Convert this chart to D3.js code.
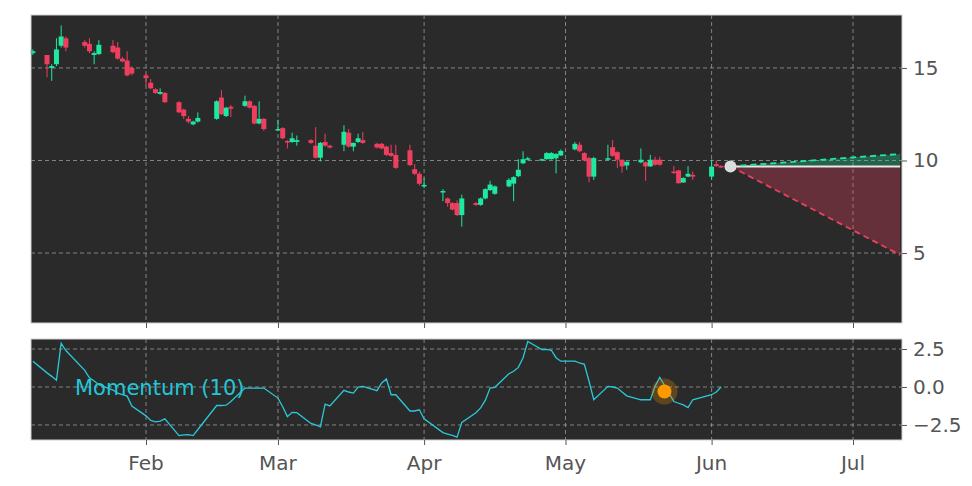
<!DOCTYPE html>
<html>
<head>
<meta charset="utf-8">
<script src="https://cdn.jsdelivr.net/npm/d3@7"></script>
<style>
  body { margin: 0; background: #fff; }
  text { font-family: "DejaVu Sans", sans-serif; }
</style>
</head>
<body>
<svg id="chart" width="972" height="486"></svg>
<script>
// Trading days, Jan 8 - Jun 3 2021
var dates = [
  '2021-01-08','2021-01-11','2021-01-12','2021-01-13','2021-01-14','2021-01-15','2021-01-19','2021-01-20','2021-01-21','2021-01-22',
  '2021-01-25','2021-01-26','2021-01-27','2021-01-28','2021-01-29',
  '2021-02-01','2021-02-02','2021-02-03','2021-02-04','2021-02-05','2021-02-08','2021-02-09','2021-02-10','2021-02-11','2021-02-12',
  '2021-02-16','2021-02-17','2021-02-18','2021-02-19','2021-02-22','2021-02-23','2021-02-24','2021-02-25','2021-02-26',
  '2021-03-01','2021-03-02','2021-03-03','2021-03-04','2021-03-05','2021-03-08','2021-03-09','2021-03-10','2021-03-11','2021-03-12',
  '2021-03-15','2021-03-16','2021-03-17','2021-03-18','2021-03-19','2021-03-22','2021-03-23','2021-03-24','2021-03-25','2021-03-26',
  '2021-03-29','2021-03-30','2021-03-31',
  '2021-04-01','2021-04-05','2021-04-06','2021-04-07','2021-04-08','2021-04-09','2021-04-12','2021-04-13','2021-04-14','2021-04-15',
  '2021-04-16','2021-04-19','2021-04-20','2021-04-21','2021-04-22','2021-04-23','2021-04-26','2021-04-27','2021-04-28','2021-04-29','2021-04-30',
  '2021-05-03','2021-05-04','2021-05-05','2021-05-06','2021-05-07','2021-05-10','2021-05-11','2021-05-12','2021-05-13','2021-05-14',
  '2021-05-17','2021-05-18','2021-05-19','2021-05-20','2021-05-21','2021-05-24','2021-05-25','2021-05-26','2021-05-27','2021-05-28',
  '2021-06-01','2021-06-02','2021-06-03'
];
var opens = [
  15.8,15.7,15.0,15.2,16.2,16.6,16.4,16.3,15.7,15.75,16.2,16.1,15.5,15.4,15.0,
  14.6,14.2,13.85,13.6,13.65,13.15,12.75,12.25,11.95,12.1,12.25,13.4,12.4,12.9,12.95,13.2,12.95,12.0,12.25,
  11.65,11.75,11.05,11.0,11.0,11.1,10.8,10.15,11.0,10.8,10.85,11.5,10.75,11.0,11.1,10.9,10.9,10.75,10.4,10.3,10.55,9.53,9.28,
  8.6,8.3,7.95,7.7,7.7,7.05,7.7,7.6,7.95,8.4,8.2,8.6,8.75,9.15,9.85,10.04,10.04,10.07,10.07,10.12,10.27,
  10.6,10.85,10.4,10.13,9.13,10.05,10.72,10.45,10.04,9.73,9.9,9.9,9.68,10.04,10.04,9.4,9.46,8.81,9.13,9.22,
  9.13,9.8,9.7
];
var closes = [
  15.9,15.2,15.1,16.0,16.7,16.1,16.2,15.9,15.8,16.25,15.85,15.5,15.35,14.6,14.7,
  14.45,13.9,13.65,13.7,13.15,12.6,12.4,12.1,12.1,12.3,13.2,12.5,12.85,12.8,13.2,12.85,12.0,12.25,11.7,
  11.7,11.2,11.0,11.2,11.1,10.95,10.15,10.95,10.8,10.7,11.55,10.75,10.95,11.2,10.95,10.7,10.65,10.3,10.25,9.6,9.75,9.28,8.74,
  8.68,8.35,7.7,7.35,7.05,7.95,7.6,7.95,8.45,8.7,8.6,8.95,9.1,9.5,10.07,10.12,10.07,10.4,10.4,10.35,10.52,
  10.9,10.5,10.0,9.13,10.13,10.12,10.25,10.04,9.68,9.93,10.04,9.68,10.04,9.77,9.77,9.32,8.77,9.05,9.28,9.13,
  9.67,9.7,9.68
];
var highs = [
  16.0,15.7,15.2,16.6,17.3,16.7,16.5,16.6,15.9,16.5,16.5,16.4,15.6,15.9,15.1,
  14.7,14.4,13.9,13.9,13.7,13.2,12.8,12.4,12.15,12.6,13.25,13.8,12.9,13.0,13.5,13.25,13.0,13.2,12.3,
  12.2,11.8,11.1,11.5,11.35,11.15,11.8,11.0,11.45,10.85,11.9,11.7,10.97,11.45,11.55,10.95,10.95,10.8,10.85,10.85,10.85,9.8,9.4,
  9.05,8.45,8.0,7.75,7.85,8.15,7.75,8.0,8.5,8.9,8.65,9.05,9.15,10.07,10.5,10.2,10.1,10.45,10.45,10.4,10.6,
  11.0,11.0,10.45,10.2,10.2,10.85,11.1,10.5,10.05,9.95,10.65,9.95,10.3,10.2,10.2,9.7,9.5,9.1,9.7,9.4,
  10.05,10.0,9.75
];
var lows = [
  15.7,14.5,14.3,15.1,16.1,15.9,16.1,15.8,15.2,15.7,15.8,15.45,15.3,14.55,14.6,
  14.05,13.85,13.6,13.55,13.1,12.55,12.25,12.0,11.9,12.05,12.2,12.45,12.35,12.35,12.9,12.8,11.95,11.95,11.6,
  11.6,11.15,10.65,10.95,10.8,10.9,10.1,9.95,10.75,10.65,10.5,10.7,10.5,10.95,10.9,10.65,10.6,10.25,10.2,9.55,9.7,9.2,8.65,
  8.5,7.8,7.5,7.3,7.0,6.43,7.55,7.55,7.9,8.35,8.15,8.55,7.8,9.1,9.8,10.0,10.0,10.05,10.05,9.3,10.25,
  10.55,10.45,9.95,8.82,8.95,10.0,10.2,9.6,9.34,9.5,9.85,8.9,9.65,9.72,9.72,9.28,8.75,8.8,9.1,8.95,
  8.95,9.65,9.6
];
var momentum = [
  1.7,0.93,0.7,0.45,2.87,2.4,1.1,0.6,0.4,0.15,-0.2,-0.4,-0.5,-0.6,-1.25,
  -1.9,-2.2,-2.3,-2.25,-2.1,-3.2,-3.15,-3.13,-3.2,-2.8,-1.22,-1.22,-1.2,-0.95,-0.07,-0.07,-0.07,-0.07,-0.07,
  -0.73,-1.3,-1.95,-1.67,-1.69,-2.4,-2.5,-2.62,-1.13,-1.25,-0.22,-0.33,-0.4,0.0,0.04,-0.24,0.27,0.53,-0.51,-0.51,-1.58,-1.58,-1.5,
  -2.1,-3.0,-3.1,-3.18,-3.3,-2.33,-1.7,-1.38,-0.87,-0.07,-0.02,0.87,1.04,1.29,1.93,3.0,2.47,2.47,2.42,1.93,1.7,
  1.7,1.58,1.49,0.38,-0.84,0.04,0.0,-0.07,-0.33,-0.58,-0.84,-0.84,-0.84,0.04,0.64,-0.96,-1.07,-1.18,-1.36,-0.84,
  -0.51,-0.33,0.0
];
// Projection from last close
var projStart = '2021-06-05';
var projEnd = '2021-07-11';
var projBase = 9.68;
var projUp = 10.35;
var projDown = 4.9;
var signalDate = '2021-05-22';
var signalValue = -0.3;

var priceTicks = [5, 10, 15];
var momTicks = [-2.5, 0.0, 2.5];

var parse = d3.timeParse('%Y-%m-%d');
var candles = dates.map((d, i) => ({
  date: parse(d), open: opens[i], close: closes[i], high: highs[i], low: lows[i], mom: momentum[i]
}));

var svg = d3.select('#chart');
var left = 31, right = 902;
var main = {top: 15, bottom: 323};
var lower = {top: 339, bottom: 440};
var bg = '#2a2a2a';
var gridColor = '#9a9a9a';
var green = '#1de9a0', red = '#ef3f5f';

var x = d3.scaleTime()
  .domain([parse('2021-01-07'), parse('2021-07-11')])
  .range([left, right]);
// keep the month positions right
x.domain([x.invert(0), x.invert(0)]);
x = d3.scaleTime()
  .domain([parse('2021-02-01'), parse('2021-07-01')])
  .range([146, 853]);

var y = d3.scaleLinear().domain([1.22, 17.86]).range([main.bottom, main.top]);
var ym = d3.scaleLinear().domain([-3.49, 3.16]).range([lower.bottom, lower.top]);

var monthTicks = d3.timeMonth.range(parse('2021-02-01'), parse('2021-07-02'));

function panel(p, yScale, yTicks, fmt) {
  svg.append('rect').attr('x', left).attr('y', p.top)
    .attr('width', right - left).attr('height', p.bottom - p.top)
    .attr('fill', bg).attr('stroke', '#cfcfcf').attr('stroke-width', 1);
  var g = svg.append('g');
  g.selectAll('.vg').data(monthTicks).enter().append('line')
    .attr('x1', d => x(d)).attr('x2', d => x(d))
    .attr('y1', p.top).attr('y2', p.bottom)
    .attr('stroke', gridColor).attr('stroke-dasharray', '4,3').attr('stroke-width', 0.8);
  g.selectAll('.hg').data(yTicks).enter().append('line')
    .attr('x1', left).attr('x2', right)
    .attr('y1', d => yScale(d)).attr('y2', d => yScale(d))
    .attr('stroke', gridColor).attr('stroke-dasharray', '4,3').attr('stroke-width', 0.8);
  var ax = svg.append('g').attr('transform', `translate(${right},0)`)
    .call(d3.axisRight(yScale).tickValues(yTicks).tickFormat(fmt).tickSize(5).tickPadding(6));
  ax.select('.domain').remove();
  ax.selectAll('line').attr('stroke', '#555');
  ax.selectAll('text').attr('fill', '#555').style('font-size', '20px');
  var bx = svg.append('g').attr('transform', `translate(0,${p.bottom})`)
    .call(d3.axisBottom(x).tickValues(monthTicks).tickSize(5).tickFormat(''));
  bx.select('.domain').remove();
  bx.selectAll('line').attr('stroke', '#555');
}

panel(main, y, priceTicks, d3.format('d'));
panel(lower, ym, momTicks, d => d3.format('.1f')(d).replace('-', '\u2212'));

// month labels
svg.append('g').selectAll('text').data(monthTicks).enter().append('text')
  .attr('x', d => x(d)).attr('y', 470).attr('text-anchor', 'middle')
  .attr('fill', '#555').style('font-size', '20px')
  .text(d3.timeFormat('%b'));

// projection
var ps = parse(projStart), pe = parse(projEnd);
svg.append('path')
  .attr('d', `M${x(ps)},${y(projBase)}L${x(pe)},${y(projBase)}L${x(pe)},${y(projDown)}Z`)
  .attr('fill', red).attr('fill-opacity', 0.3);
svg.append('path')
  .attr('d', `M${x(ps)},${y(projBase)}L${x(pe)},${y(projBase)}L${x(pe)},${y(projUp)}Z`)
  .attr('fill', green).attr('fill-opacity', 0.3);
svg.append('line').attr('x1', x(ps)).attr('x2', x(pe)).attr('y1', y(projBase)).attr('y2', y(projBase))
  .attr('stroke', '#e8e8e8').attr('stroke-width', 2);
svg.append('line').attr('x1', x(ps)).attr('x2', x(pe)).attr('y1', y(projBase)).attr('y2', y(projDown))
  .attr('stroke', red).attr('stroke-width', 1.8).attr('stroke-dasharray', '6,4');
svg.append('line').attr('x1', x(ps)).attr('x2', x(pe)).attr('y1', y(projBase)).attr('y2', y(projUp))
  .attr('stroke', green).attr('stroke-width', 1.8).attr('stroke-dasharray', '6,4');
svg.append('circle').attr('cx', x(ps)).attr('cy', y(projBase)).attr('r', 6).attr('fill', '#dcdcdc');

// candles
var cg = svg.append('g');
cg.selectAll('.wick').data(candles).enter().append('line')
  .attr('x1', d => x(d.date)).attr('x2', d => x(d.date))
  .attr('y1', d => y(d.high)).attr('y2', d => y(d.low))
  .attr('stroke', d => d.close >= d.open ? green : red).attr('stroke-width', 1);
cg.selectAll('.body').data(candles).enter().append('rect')
  .attr('x', d => x(d.date) - 2.5).attr('width', 5)
  .attr('y', d => y(Math.max(d.open, d.close)))
  .attr('height', d => Math.max(1.5, Math.abs(y(d.open) - y(d.close))))
  .attr('fill', d => d.close >= d.open ? green : red);

// momentum
svg.append('path').datum(candles)
  .attr('d', d3.line().x(d => x(d.date)).y(d => ym(d.mom)))
  .attr('fill', 'none').attr('stroke', '#2bc8d8').attr('stroke-width', 1.3);
svg.append('text').attr('x', 75).attr('y', 395)
  .attr('fill', '#23c6d6').style('font-size', '21px').text('Momentum (10)');
svg.append('circle').attr('cx', x(parse(signalDate))).attr('cy', ym(signalValue))
  .attr('r', 13).attr('fill', '#ff9900').attr('fill-opacity', 0.25);
svg.append('circle').attr('cx', x(parse(signalDate))).attr('cy', ym(signalValue))
  .attr('r', 7).attr('fill', '#ff9900');
</script>
</body>
</html>
